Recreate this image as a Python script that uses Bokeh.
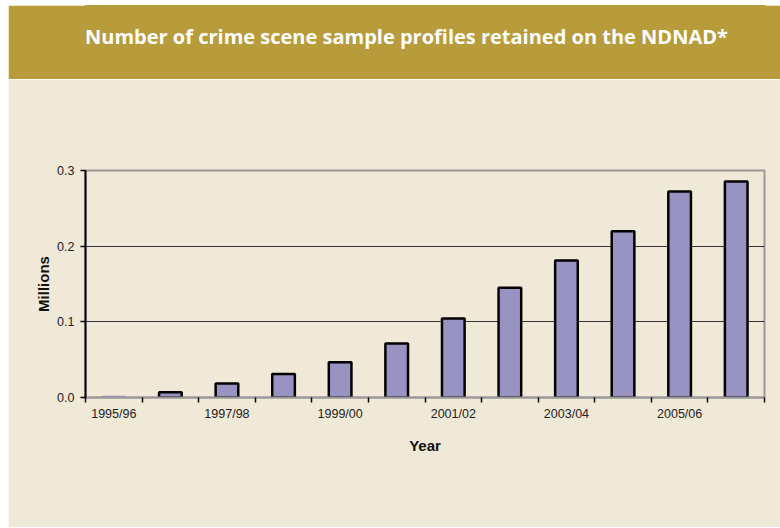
from bokeh.plotting import figure
from bokeh.layouts import column
from bokeh.models import FixedTicker, Range1d, Label, NumeralTickFormatter
from bokeh.embed import file_html
from bokeh.resources import INLINE

years = ["1995/96", "1996/97", "1997/98", "1998/99", "1999/00", "2000/01",
         "2001/02", "2002/03", "2003/04", "2004/05", "2005/06", "2006/07"]
profiles_millions = [0.0005, 0.007, 0.0185, 0.031, 0.0465, 0.0715,
                     0.1045, 0.145, 0.181, 0.2198, 0.2723, 0.2855]
y_ticks = [0.0, 0.1, 0.2, 0.3]
title_text = "Number of crime scene sample profiles retained on the NDNAD*"

GOLD = "#B89B3B"
CREAM = "#F1E9D8"
BAR = "#9893C3"

W = 772
LEFT, RIGHT = 77, 16
FRAME_W = W - LEFT - RIGHT

# header band
h = figure(width=W, height=74, output_backend="svg", toolbar_location=None,
           x_range=Range1d(0, 1), y_range=Range1d(0, 1),
           min_border_left=LEFT, min_border_right=RIGHT,
           min_border_top=0, min_border_bottom=0)
h.axis.visible = False
h.grid.visible = False
h.outline_line_color = GOLD
h.outline_line_width = 2
h.background_fill_color = GOLD
h.border_fill_color = GOLD
h.add_layout(Label(x=(398 - LEFT) / FRAME_W, y=43, y_units="screen",
                   text=title_text, text_color="white", text_font="Open Sans",
                   text_font_style="bold", text_font_size="20px",
                   text_align="center", text_baseline="middle"))

# main chart
n = len(years)
xs = [i + 0.5 for i in range(n)]
p = figure(width=W, height=448, output_backend="svg", toolbar_location=None,
           x_range=Range1d(0, n), y_range=Range1d(0, 0.3),
           min_border_left=LEFT, min_border_right=RIGHT, min_border_top=91,
           min_border_bottom=130)
p.background_fill_color = CREAM
p.border_fill_color = CREAM
p.outline_line_color = "#999999"
p.outline_line_width = 2

line_colors = ["black" if v > 0.002 else BAR for v in profiles_millions]
p.vbar(x=xs, top=profiles_millions, width=0.4, bottom=0,
       fill_color=BAR, line_color=line_colors, line_width=2.5)

# x axis: labels at every other category center, ticks at boundaries
label_pos = xs[::2]
p.xaxis.ticker = FixedTicker(ticks=label_pos, minor_ticks=list(range(n + 1)))
p.xaxis.major_label_overrides = {xs[i]: years[i] for i in range(0, n, 2)}
p.xaxis.major_tick_line_color = None
p.xaxis.major_tick_out = 0
p.xaxis.major_tick_in = 0
p.xaxis.minor_tick_line_color = "black"
p.xaxis.minor_tick_line_width = 1.5
p.xaxis.minor_tick_out = 5
p.xaxis.minor_tick_in = 0
p.xaxis.axis_line_color = "#999999"
p.xaxis.axis_line_width = 2
p.xaxis.major_label_standoff = 4
p.xaxis.axis_label = "Year"
p.xaxis.axis_label_standoff = 13

p.yaxis.ticker = FixedTicker(ticks=y_ticks)
p.yaxis.formatter = NumeralTickFormatter(format="0.0")
p.yaxis.minor_tick_line_color = None
p.yaxis.major_tick_out = 5
p.yaxis.major_tick_in = 0
p.yaxis.major_tick_line_color = "black"
p.yaxis.major_tick_line_width = 1.5
p.yaxis.axis_line_color = "black"
p.yaxis.axis_line_width = 2
p.yaxis.major_label_standoff = 6
p.yaxis.axis_label = "Millions"
p.yaxis.axis_label_standoff = 2

for ax in (p.xaxis, p.yaxis):
    ax.major_label_text_font = "Liberation Sans"
    ax.major_label_text_font_size = "12.5px"
    ax.major_label_text_color = "#222222"
    ax.axis_label_text_font = "Liberation Sans"
    ax.axis_label_text_font_size = "15px"
    ax.axis_label_text_font_style = "bold"
    ax.axis_label_text_color = "#111111"

p.xgrid.visible = False
p.ygrid.grid_line_color = "#333333"
p.ygrid.grid_line_width = 1

layout = column(h, p, spacing=0, margin=(5, 0, 0, 8))
open("out.html", "w").write(file_html(layout, INLINE))
